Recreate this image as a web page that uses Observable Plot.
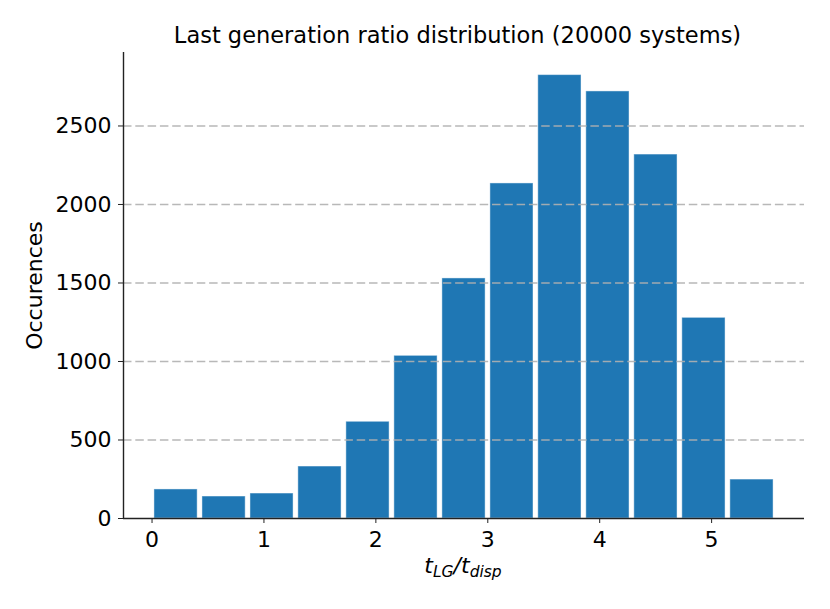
<!DOCTYPE html>
<html>
<head>
<meta charset="utf-8">
<script src="https://cdn.jsdelivr.net/npm/d3@7"></script>
<script src="https://cdn.jsdelivr.net/npm/@observablehq/plot@0.6"></script>
<style>
  html, body { margin: 0; padding: 0; background: white; }
  #title { position: relative; height: 40px; width: 830px; }
  #title div { position: absolute; left: 0; width: 915px; top: 24px; text-align: center;
    font-family: "DejaVu Sans"; font-size: 22.5px; line-height: 22px; color: #000; white-space: nowrap; }
</style>
</head>
<body>
<div id="title"><div>Last generation ratio distribution (20000 systems)</div></div>
<div id="chart"></div>
<script>
const binEdges = [0, 0.429, 0.858, 1.286, 1.715, 2.144, 2.573, 3.002, 3.430, 3.859, 4.288, 4.717, 5.146, 5.575];
const counts = [185, 140, 159, 331, 616, 1036, 1529, 2134, 2824, 2720, 2318, 1278, 248];
const xTicks = [0, 1, 2, 3, 4, 5];
const yTicks = [0, 500, 1000, 1500, 2000, 2500];
const xDomain = [-0.255, 5.83];
const yDomain = [0, 2968];
const yLabel = "Occurences";
const xLabel = "tLG/tdisp";

const bins = counts.map((c, i) => ({x1: binEdges[i], x2: binEdges[i + 1], count: c}));

const chart = Plot.plot({
  width: 830,
  height: 569,
  marginTop: 12,
  marginLeft: 123,
  marginRight: 26,
  marginBottom: 91,
  style: {fontFamily: "DejaVu Sans", fontSize: "22px", background: "white", color: "#000"},
  x: {domain: xDomain},
  y: {domain: yDomain},
  marks: [
    Plot.rectY(bins, {x1: "x1", x2: "x2", y: "count", fill: "#1f77b4", insetLeft: 2.4, insetRight: 2.4,
      stroke: "white", strokeOpacity: 0.45, strokeWidth: 1}),
    Plot.gridY(yTicks.slice(1), {stroke: "#b0b0b0", strokeOpacity: 0.9, strokeWidth: 1.5, strokeDasharray: "8.5,3.8"}),
    Plot.axisY(yTicks, {tickSize: 5, tickPadding: 7, fontSize: 22, label: null, stroke: "#222", tickFormat: d => String(d)}),
    Plot.axisX(xTicks, {tickSize: 5, tickPadding: 8, fontSize: 22, label: null, stroke: "#222", tickFormat: d => String(d)}),
    Plot.ruleX([xDomain[0]], {stroke: "#222", strokeWidth: 1.4}),
    Plot.ruleY([0], {stroke: "#222", strokeWidth: 1.4}),
    Plot.text([yLabel], {frameAnchor: "left", dx: -89, rotate: -90, textAnchor: "middle", fontSize: 22, fill: "#000"}),
    Plot.text([xLabel], {frameAnchor: "bottom", dy: 54, dx: -1, textAnchor: "middle", fontSize: 22, fill: "#000"})
  ]
});
document.getElementById("chart").appendChild(chart);

// rich formatting of the x label (italic with subscripts)
const xl = d3.select(chart).selectAll("text").filter(function() { return this.textContent === xLabel; });
xl.attr("y", null).attr("dy", null).text("").attr("font-style", "italic");
xl.append("tspan").text("t");
xl.append("tspan").attr("font-size", 15.5).attr("dy", 4.5).text("LG");
xl.append("tspan").attr("dy", -4.5).text("/t");
xl.append("tspan").attr("font-size", 15.5).attr("dy", 4.5).text("disp");
</script>
</body>
</html>
